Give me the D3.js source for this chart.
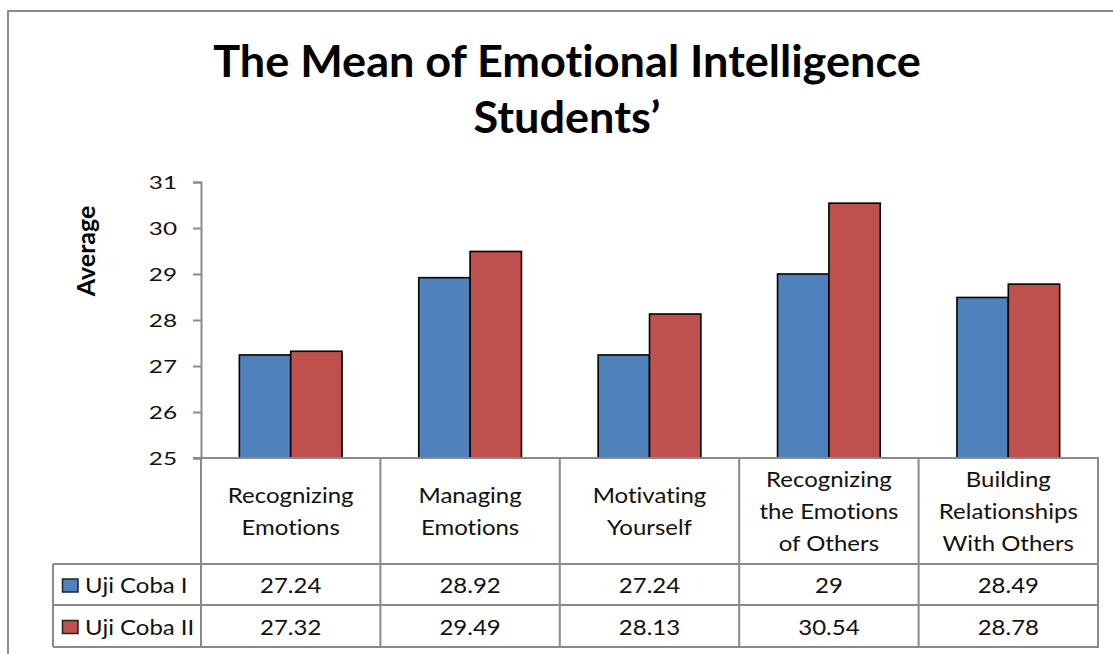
<!DOCTYPE html>
<html><head><meta charset="utf-8">
<script src="https://cdn.jsdelivr.net/npm/d3@7"></script>
<style>html,body{margin:0;padding:0;background:#fff;}svg{display:block;}text{font-variant-ligatures:none;font-feature-settings:"liga" 0;}</style>
</head><body>
<svg id="c" width="1113" height="654"></svg>
<script>
const categories = [
  ["Recognizing","Emotions"],
  ["Managing","Emotions"],
  ["Motivating","Yourself"],
  ["Recognizing","the Emotions","of Others"],
  ["Building","Relationships","With Others"]
];
const seriesNames = ["Uji Coba I","Uji Coba II"];
const seriesColors = ["#4F81BD","#C0504D"];
const ujiCoba1 = [27.24, 28.92, 27.24, 29, 28.49];
const ujiCoba2 = [27.32, 29.49, 28.13, 30.54, 28.78];
const tableLabels1 = ["27.24","28.92","27.24","29","28.49"];
const tableLabels2 = ["27.32","29.49","28.13","30.54","28.78"];
const yTicks = [25,26,27,28,29,30,31];
const titleLines = ["The Mean of Emotional Intelligence","Students\u2019"];
const yAxisLabel = "Average";

(function(){
const series = [ujiCoba1, ujiCoba2];
const labels = [tableLabels1, tableLabels2];
const FONT = "Lato, 'Open Sans', sans-serif";
const GRID = "#8a8a8a";
const SX = 1.09, FS = 22;

const svg = d3.select("#c");
svg.append("rect").attr("x",8).attr("y",11).attr("width",1130).attr("height",660)
  .attr("fill","none").attr("stroke",GRID).attr("stroke-width",2);

function txt(g, x, y, s, anchor, opts){
  opts = opts || {};
  return g.append("text").attr("transform",`translate(${x},${y}) scale(${opts.sx||SX},1)`)
    .attr("text-anchor",anchor).attr("dy",opts.dy||"0.35em")
    .attr("font-family",FONT).attr("font-size",opts.fs||FS).attr("font-weight",opts.fw||"normal")
    .attr("fill",opts.fill||"#111").text(s);
}

// title
const tfs = 43;
const t1 = svg.append("text").attr("text-anchor","middle")
  .attr("font-family",FONT).attr("font-weight","bold").attr("font-size",tfs).attr("fill","#000").text(titleLines[0]);
const tsx = 708 / t1.node().getComputedTextLength();
t1.attr("transform",`translate(567,77) scale(${tsx},1)`);
svg.append("text").attr("text-anchor","middle").attr("transform",`translate(567,133) scale(${tsx},1)`)
  .attr("font-family",FONT).attr("font-weight","bold").attr("font-size",tfs).attr("fill","#000").text(titleLines[1]);

const pL = 201, pR = 1098, pT = 182, pB = 458;
const y = d3.scaleLinear().domain([25,31]).range([pB, pT]);
const idx = d3.range(categories.length);
const x = d3.scaleBand().domain(idx).range([pL,pR]).padding(0);
const xs = d3.scaleBand().domain([0,1]).range([0,x.bandwidth()]).paddingInner(0).paddingOuter(0.747);

const ya = svg.append("g").attr("transform",`translate(${pL},0)`)
  .call(d3.axisLeft(y).tickValues(yTicks).tickSize(8).tickFormat(d3.format("d")));
ya.select(".domain").attr("stroke",GRID).attr("stroke-width",2);
ya.selectAll(".tick line").attr("stroke",GRID).attr("stroke-width",2);
ya.selectAll(".tick text").attr("x",null).attr("dy","0.35em")
  .attr("transform",`translate(-24,0) scale(1.35,1)`)
  .attr("font-family",FONT).attr("font-size",18).attr("fill","#111");

svg.append("text").attr("transform",`translate(95,251) rotate(-90)`).attr("text-anchor","middle")
  .attr("font-family",FONT).attr("font-weight","bold").attr("font-size",25).attr("fill","#000").text(yAxisLabel);

series.forEach((vals,s)=>{
  svg.append("g").selectAll("rect").data(vals).join("rect")
    .attr("x",(d,i)=>x(i)+xs(s)).attr("width",xs.bandwidth())
    .attr("y",d=>y(d)).attr("height",d=>pB-y(d))
    .attr("fill",seriesColors[s]).attr("stroke","#000").attr("stroke-width",1.6);
});

const rowH = [564, 605, 647];
const tg = svg.append("g").attr("stroke",GRID).attr("stroke-width",2).attr("fill","none");
tg.append("line").attr("x1",193).attr("x2",pR+1).attr("y1",pB).attr("y2",pB);
rowH.forEach(yy=>tg.append("line").attr("x1",53).attr("x2",pR+1).attr("y1",yy).attr("y2",yy));
idx.concat([categories.length]).forEach(i=>{
  const xx = i<categories.length ? x(i) : pR;
  tg.append("line").attr("x1",xx).attr("x2",xx).attr("y1",pB).attr("y2",rowH[2]);
});
tg.append("line").attr("x1",53).attr("x2",53).attr("y1",rowH[0]).attr("y2",rowH[2]);

const hdr = svg.append("g");
categories.forEach((lines,i)=>{
  const cy = (pB+rowH[0])/2;
  const n = lines.length;
  lines.forEach((ln,k)=>{
    txt(hdr, x(i)+x.bandwidth()/2, cy + (k-(n-1)/2)*32, ln, "middle");
  });
});

const body = svg.append("g");
[0,1].forEach(s=>{
  const cy = (rowH[s]+rowH[s+1])/2 + 1;
  body.append("rect").attr("x",62.5).attr("y",cy-6.5).attr("width",15.5).attr("height",13)
    .attr("fill",seriesColors[s]).attr("stroke","#222").attr("stroke-width",1.5);
  txt(body, 85, cy, seriesNames[s], "start");
  labels[s].forEach((lb,i)=>{
    txt(body, x(i)+x.bandwidth()/2, cy, lb, "middle");
  });
});
})();
</script>
</body></html>
